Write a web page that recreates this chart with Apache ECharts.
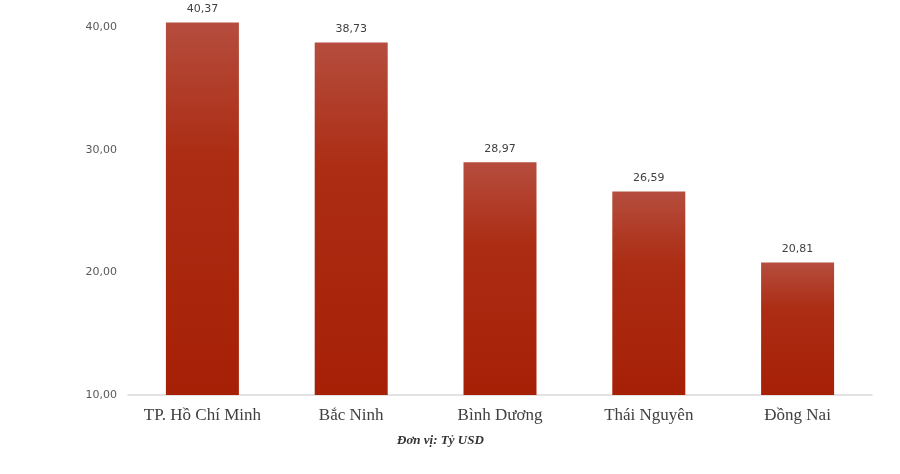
<!DOCTYPE html>
<html><head><meta charset="utf-8">
<script src="https://cdn.jsdelivr.net/npm/echarts@6/dist/echarts.min.js"></script>
<style>html,body{margin:0;padding:0;background:#fff}#c{width:900px;height:474px}</style>
</head><body><div id="c"></div>
<script>
const categories = ["TP. Hồ Chí Minh", "Bắc Ninh", "Bình Dương", "Thái Nguyên", "Đồng Nai"];
const values = [40.37, 38.73, 28.97, 26.59, 20.81];
const unitText = "Đơn vị: Tỷ USD";
const fmt = v => v.toFixed(2).replace('.', ',');

const chart = echarts.init(document.getElementById('c'), null, {renderer: 'canvas'});
chart.setOption({
  animation: false,
  grid: {left: 128, right: 28, top: 14.7, bottom: 79},
  xAxis: {
    type: 'category', data: categories,
    axisLine: {lineStyle: {color: '#d9d9d9', width: 1.5}},
    axisTick: {show: false},
    axisLabel: {interval: 0, color: '#404040', fontFamily: 'Liberation Serif', fontSize: 17, margin: 12}
  },
  yAxis: {
    type: 'value', min: 10, max: 41, interval: 10,
    splitLine: {show: false},
    axisLine: {show: false}, axisTick: {show: false},
    axisLabel: {color: '#595959', fontFamily: 'DejaVu Sans', fontSize: 11, margin: 11,
      formatter: v => (v % 10 === 0 ? fmt(v) : '')}
  },
  graphic: [{
    type: 'text', left: 397, top: 434,
    style: {text: unitText, font: 'italic bold 13px "Liberation Serif"', fill: '#333'}
  }],
  series: [{
    type: 'bar', data: values, barWidth: 73,
    itemStyle: {
      color: new echarts.graphic.LinearGradient(0, 0, 0, 1, [
        {offset: 0, color: '#b54d3e'},
        {offset: 0.35, color: '#ac2d14'},
        {offset: 1, color: '#a62006'}
      ])
    },
    label: {show: true, position: 'top', distance: 8, color: '#404040', fontFamily: 'DejaVu Sans', fontSize: 11, formatter: p => fmt(p.value)}
  }]
});
</script></body></html>
